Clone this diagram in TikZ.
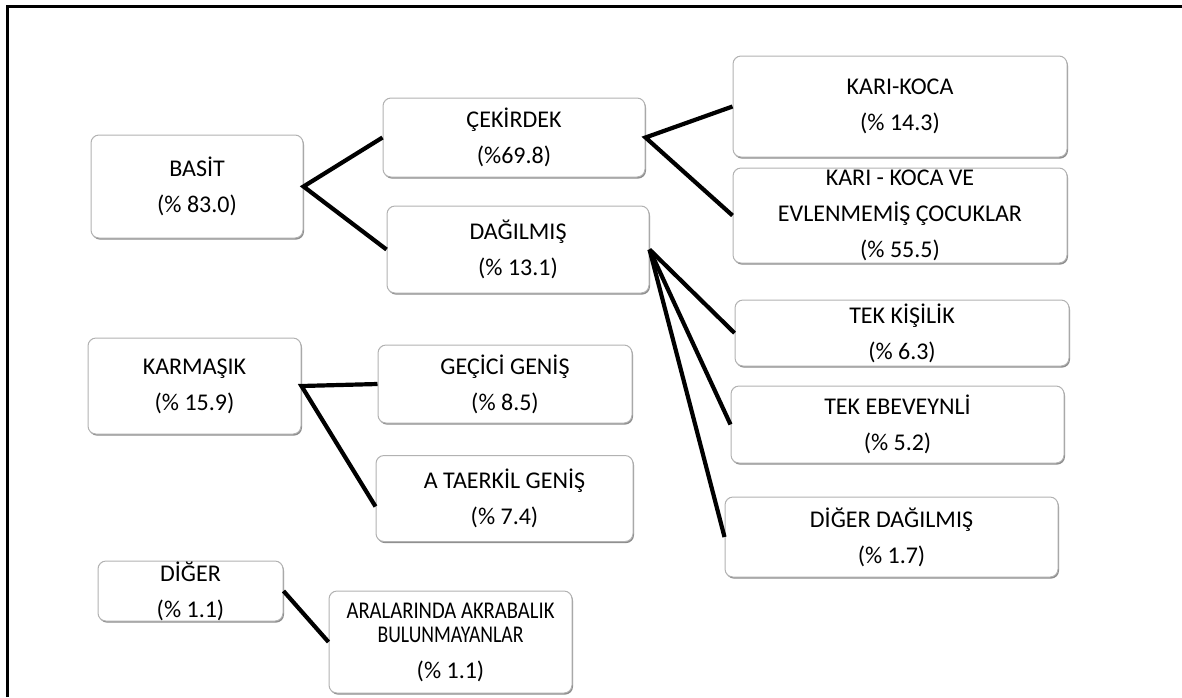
\documentclass[tikz,border=0pt]{standalone}
\usepackage{fontspec}
\usepackage{graphicx}
\setmainfont{Carlito}
\usetikzlibrary{shadows}
\begin{document}
\begin{tikzpicture}[x=1pt,y=-1pt,
  box/.style={draw=gray!60, line width=1pt, rounded corners=8pt, fill=white,
    align=center, inner sep=0pt, text=black,
    font=\fontsize{24}{36}\selectfont,
    drop shadow={shadow xshift=1pt, shadow yshift=-1.6pt, fill=gray!90, opacity=1}},
  link/.style={line width=4.2pt, black}]
\useasboundingbox (0,0) rectangle (1182,697);
\draw[line width=3pt] (7.5,697) -- (7.5,6) -- (1182,6);

\node[box, minimum width=212pt, minimum height=103pt] (basit) at (197,186.5) {BASİT\\(\% 83.0)};
\node[box, minimum width=262pt, minimum height=79pt] (cek) at (514,137.5) {ÇEKİRDEK\\(\%69.8)};
\node[box, minimum width=262pt, minimum height=87pt] (dag) at (518,249.5) {DAĞILMIŞ\\(\% 13.1)};
\node[box, minimum width=334pt, minimum height=101pt] (kk) at (900,106.5) {KARI-KOCA\\(\% 14.3)};
\node[box, minimum width=334pt, minimum height=95pt] (kkv) at (900,215.5) {KARI - KOCA VE\\EVLENMEMİŞ ÇOCUKLAR\\(\% 55.5)};
\node[box, minimum width=334pt, minimum height=66pt] (tekk) at (902,333) {TEK KİŞİLİK\\(\% 6.3)};
\node[box, minimum width=333pt, minimum height=77pt] (teke) at (897.5,424.5) {TEK EBEVEYNLİ\\(\% 5.2)};
\node[box, minimum width=333pt, minimum height=80pt] (digd) at (891.5,537) {DİĞER DAĞILMIŞ\\(\% 1.7)};
\node[box, minimum width=213pt, minimum height=96pt] (karm) at (194.5,386) {KARMAŞIK\\(\% 15.9)};
\node[box, minimum width=254pt, minimum height=78pt] (gec) at (505,384) {GEÇİCİ GENİŞ\\(\% 8.5)};
\node[box, minimum width=257pt, minimum height=86pt] (ata) at (504.5,498.5) {A TAERKİL GENİŞ\\(\% 7.4)};
\node[box, minimum width=185pt, minimum height=60pt] (dig) at (190.5,591) {DİĞER\\(\% 1.1)};
\node[box, minimum width=243pt, minimum height=102pt] (ara) at (450.5,642) {\scalebox{0.86}[1]{ARALARINDA AKRABALIK}\\[-12pt]\scalebox{0.82}[1]{BULUNMAYANLAR}\\(\% 1.1)};

\draw[link] (cek.west) -- (basit.east) -- (dag.west);
\draw[link] (kk.west) -- (cek.east) -- (kkv.west);
\draw[link] (dag.east) -- (tekk.west);
\draw[link] (dag.east) -- (teke.west);
\draw[link] (dag.east) -- (digd.west);
\draw[link] (gec.west) -- (karm.east) -- ([yshift=-8pt]ata.west);
\draw[link] (dig.east) -- (ara.west);
\end{tikzpicture}
\end{document}
